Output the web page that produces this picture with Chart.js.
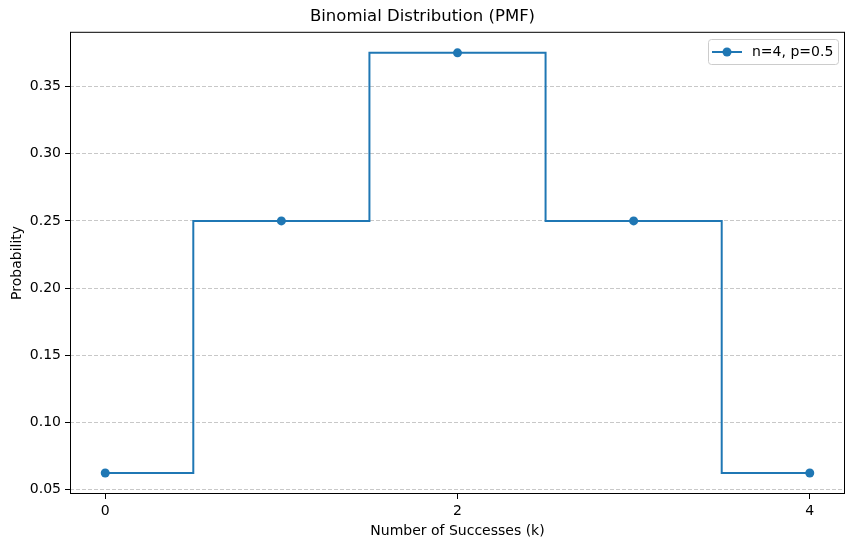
<!DOCTYPE html>
<html>
<head>
<meta charset="utf-8">
<script src="https://cdn.jsdelivr.net/npm/chart.js"></script>
<style>
    body { margin: 0; background: #fff; }
    #wrap { width: 855px; height: 547px; }
</style>
</head>
<body>
<div id="wrap"><canvas id="pmfChart" width="855" height="547"></canvas></div>
<script>
// Binomial PMF, n=4, p=0.5
const successes = [0, 1, 2, 3, 4];
const probabilities = [0.0625, 0.25, 0.375, 0.25, 0.0625];
const xTickValues = [0, 2, 4];
const yTickValues = [0.05, 0.10, 0.15, 0.20, 0.25, 0.30, 0.35];
const seriesLabel = 'n=4, p=0.5';

const BLUE = '#1f77b4';
const FONT = 'DejaVu Sans';

Chart.defaults.font.family = FONT;
Chart.defaults.color = '#000';

// frame round the plot area + legend inside top right
const framePlugin = {
    id: 'frame',
    afterDraw(chart) {
        const { ctx, chartArea: a } = chart;
        ctx.save();
        ctx.strokeStyle = '#000';
        ctx.lineWidth = 1;
        ctx.strokeRect(a.left + 0.5, a.top + 0.5, a.right - a.left - 1, a.bottom - a.top - 1);

        // legend box
        const x = 708, y = 39, w = 130, h = 25, r = 3;
        ctx.beginPath();
        ctx.roundRect(x + 0.5, y + 0.5, w, h, r);
        ctx.fillStyle = 'rgba(255,255,255,0.8)';
        ctx.fill();
        ctx.strokeStyle = '#cccccc';
        ctx.stroke();

        const cy = y + h / 2 + 0.5;
        ctx.beginPath();
        ctx.moveTo(x + 4, cy);
        ctx.lineTo(x + 34, cy);
        ctx.strokeStyle = BLUE;
        ctx.lineWidth = 2;
        ctx.stroke();
        ctx.beginPath();
        ctx.arc(x + 19, cy, 4.5, 0, Math.PI * 2);
        ctx.fillStyle = BLUE;
        ctx.fill();

        ctx.fillStyle = '#000';
        ctx.font = '14px ' + FONT;
        ctx.textBaseline = 'middle';
        ctx.textAlign = 'left';
        ctx.fillText(seriesLabel, x + 44, cy);
        ctx.restore();
    }
};

const ctx = document.getElementById('pmfChart').getContext('2d');
new Chart(ctx, {
    type: 'line',
    data: {
        datasets: [{
            label: seriesLabel,
            data: successes.map((k, i) => ({ x: k, y: probabilities[i] })),
            stepped: 'middle',
            borderColor: BLUE,
            backgroundColor: BLUE,
            borderWidth: 2,
            pointRadius: 4.5,
            pointBorderWidth: 0,
            pointBackgroundColor: BLUE,
            fill: false
        }]
    },
    options: {
        responsive: false,
        animation: false,
        devicePixelRatio: 1,
        layout: { padding: { left: 0, right: 10, top: 0, bottom: 0 } },
        plugins: {
            legend: { display: false },
            tooltip: { enabled: false },
            title: {
                display: true,
                text: 'Binomial Distribution (PMF)',
                color: '#000',
                font: { size: 16.5, weight: 'normal' },
                padding: { top: 7, bottom: 5 }
            }
        },
        scales: {
            x: {
                type: 'linear',
                min: -0.2,
                max: 4.2,
                afterBuildTicks: scale => { scale.ticks = xTickValues.map(v => ({ value: v })); },
                afterFit: scale => { scale.height = 53; },
                border: { display: false },
                grid: {
                    drawOnChartArea: false,
                    drawTicks: true,
                    tickLength: 5,
                    tickColor: '#000',
                    tickWidth: 1
                },
                ticks: {
                    color: '#000',
                    font: { size: 14 },
                    padding: 4,
                    maxRotation: 0,
                    callback: v => String(v)
                },
                title: {
                    display: true,
                    text: 'Number of Successes (k)',
                    color: '#000',
                    font: { size: 14 },
                    padding: { top: 0, bottom: 7 }
                }
            },
            y: {
                type: 'linear',
                min: 0.046875,
                max: 0.390625,
                afterBuildTicks: scale => { scale.ticks = yTickValues.map(v => ({ value: v })); },
                afterFit: scale => { scale.width = 70; },
                border: { display: false, dash: [4, 2] },
                grid: {
                    color: 'rgba(176,176,176,0.7)',
                    lineWidth: 1,
                    drawTicks: true,
                    tickLength: 5,
                    tickColor: '#000',
                    tickWidth: 1
                },
                ticks: {
                    color: '#000',
                    font: { size: 14 },
                    padding: 4,
                    callback: v => v.toFixed(2)
                },
                title: {
                    display: true,
                    text: 'Probability',
                    color: '#000',
                    font: { size: 14 },
                    padding: { top: 9, bottom: 0 }
                }
            }
        }
    },
    plugins: [framePlugin]
});
</script>
</body>
</html>
